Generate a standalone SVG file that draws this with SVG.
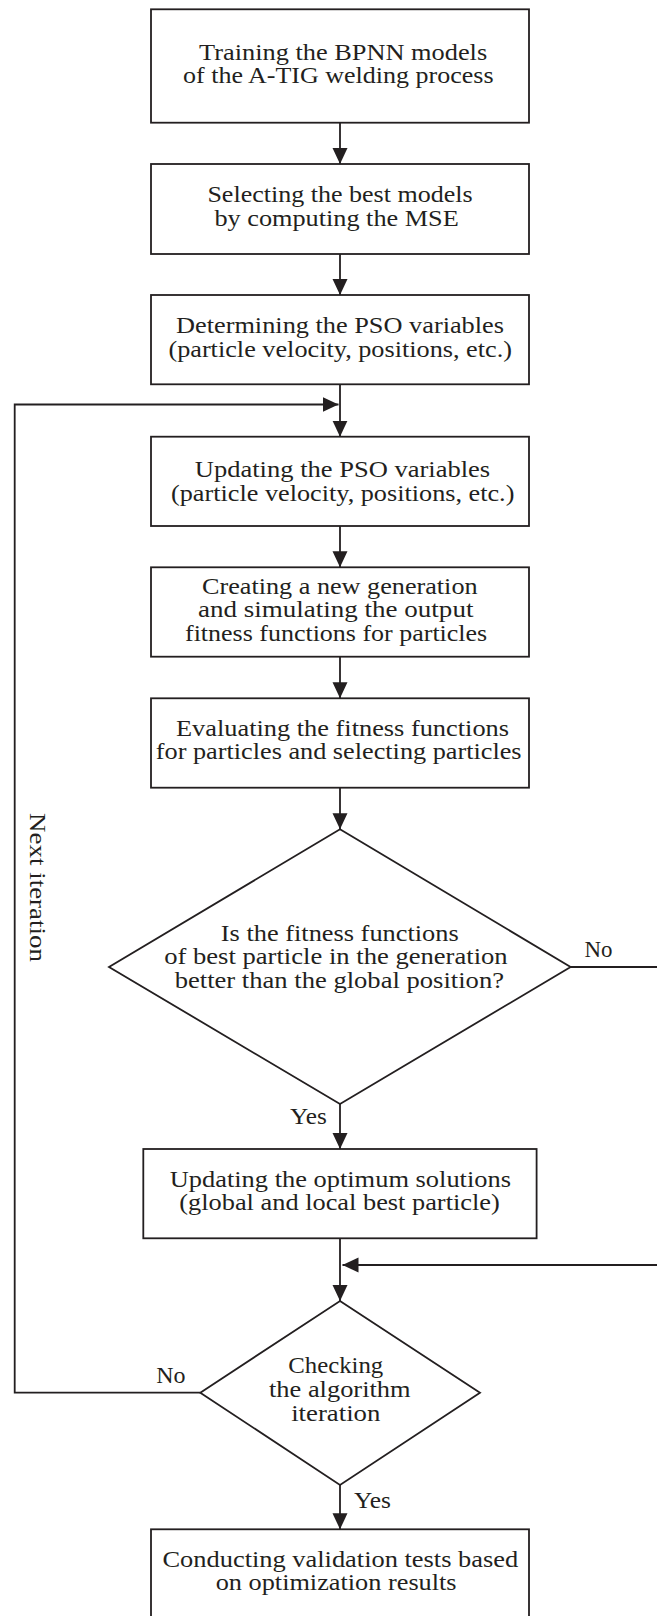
<svg xmlns="http://www.w3.org/2000/svg" width="657" height="1616" viewBox="0 0 657 1616">
<defs>
<marker id="ah" markerUnits="userSpaceOnUse" markerWidth="18" markerHeight="16" refX="16" refY="7.5" orient="auto">
<path d="M0,0 L16,7.5 L0,15 Z" fill="#231f20"/>
</marker>
<style>
.n{fill:#fff;stroke:#231f20;stroke-width:1.8}
.c{fill:none;stroke:#231f20;stroke-width:1.8}
.t{font-family:"Liberation Serif","Times New Roman",serif;font-size:23.5px;fill:#231f20}
</style>
</defs>
<rect width="657" height="1616" fill="#fff"/>
<g id="connectors">
<line class="c" x1="340" y1="122.7" x2="340" y2="164" marker-end="url(#ah)"/>
<line class="c" x1="340" y1="254" x2="340" y2="295" marker-end="url(#ah)"/>
<line class="c" x1="340" y1="384.3" x2="340" y2="436.7" marker-end="url(#ah)"/>
<polyline class="c" points="200.3,1392.7 14.7,1392.7 14.7,404.5 338.5,404.5" marker-end="url(#ah)"/>
<line class="c" x1="340" y1="526" x2="340" y2="567.3" marker-end="url(#ah)"/>
<line class="c" x1="340" y1="656.7" x2="340" y2="698.3" marker-end="url(#ah)"/>
<line class="c" x1="340" y1="787.7" x2="340" y2="829.3" marker-end="url(#ah)"/>
<line class="c" x1="570.6" y1="967" x2="660" y2="967"/>
<line class="c" x1="660" y1="1265" x2="342.5" y2="1265" marker-end="url(#ah)"/>
<line class="c" x1="340" y1="1104" x2="340" y2="1149" marker-end="url(#ah)"/>
<line class="c" x1="340" y1="1238.3" x2="340" y2="1301" marker-end="url(#ah)"/>
<line class="c" x1="340" y1="1485" x2="340" y2="1529.3" marker-end="url(#ah)"/>
<text class="t" x="584.4" y="957.3" textLength="28" lengthAdjust="spacingAndGlyphs">No</text>
<text class="t" x="290" y="1124" textLength="36.8" lengthAdjust="spacingAndGlyphs">Yes</text>
<text class="t" x="156.3" y="1382.7" textLength="29.3" lengthAdjust="spacingAndGlyphs">No</text>
<text class="t" x="354" y="1508.3" textLength="37" lengthAdjust="spacingAndGlyphs">Yes</text>
<text class="t" transform="translate(29.5,813) rotate(90)" x="0" y="0" textLength="149" lengthAdjust="spacingAndGlyphs">Next iteration</text>
</g>
<g id="n1">
<rect class="n" x="151" y="9.3" width="378" height="113.4"/>
<text class="t" x="199" y="60" textLength="288.2" lengthAdjust="spacingAndGlyphs">Training the BPNN models</text>
<text class="t" x="183.1" y="83.3" textLength="310.4" lengthAdjust="spacingAndGlyphs">of the A-TIG welding process</text>
</g>
<g id="n2">
<rect class="n" x="151" y="164" width="378" height="90"/>
<text class="t" x="207.4" y="202.3" textLength="265.2" lengthAdjust="spacingAndGlyphs">Selecting the best models</text>
<text class="t" x="214.5" y="225.7" textLength="244.2" lengthAdjust="spacingAndGlyphs">by computing the MSE</text>
</g>
<g id="n3">
<rect class="n" x="151" y="295" width="378" height="89.3"/>
<text class="t" x="176" y="333.3" textLength="328" lengthAdjust="spacingAndGlyphs">Determining the PSO variables</text>
<text class="t" x="168.4" y="356.7" textLength="343.6" lengthAdjust="spacingAndGlyphs">(particle velocity, positions, etc.)</text>
</g>
<g id="n4">
<rect class="n" x="151" y="436.7" width="378" height="89.3"/>
<text class="t" x="194.8" y="477.3" textLength="295.4" lengthAdjust="spacingAndGlyphs">Updating the PSO variables</text>
<text class="t" x="171" y="500.7" textLength="343.4" lengthAdjust="spacingAndGlyphs">(particle velocity, positions, etc.)</text>
</g>
<g id="n5">
<rect class="n" x="151" y="567.3" width="378" height="89.4"/>
<text class="t" x="202" y="594" textLength="275.6" lengthAdjust="spacingAndGlyphs">Creating a new generation</text>
<text class="t" x="198" y="617.3" textLength="275.4" lengthAdjust="spacingAndGlyphs">and simulating the output</text>
<text class="t" x="185" y="640.7" textLength="302.2" lengthAdjust="spacingAndGlyphs">fitness functions for particles</text>
</g>
<g id="n6">
<rect class="n" x="151" y="698.3" width="378" height="89.4"/>
<text class="t" x="176" y="735.7" textLength="333" lengthAdjust="spacingAndGlyphs">Evaluating the fitness functions</text>
<text class="t" x="155.8" y="759" textLength="365.8" lengthAdjust="spacingAndGlyphs">for particles and selecting particles</text>
</g>
<g id="d1">
<polygon class="n" points="340,829.3 570.6,967 340,1104 109,967"/>
<text class="t" x="220.8" y="941" textLength="237.9" lengthAdjust="spacingAndGlyphs">Is the fitness functions</text>
<text class="t" x="164.2" y="964.3" textLength="343.5" lengthAdjust="spacingAndGlyphs">of best particle in the generation</text>
<text class="t" x="174.7" y="988.3" textLength="329.3" lengthAdjust="spacingAndGlyphs">better than the global position?</text>
</g>
<g id="n7">
<rect class="n" x="143.3" y="1149" width="393.3" height="89.3"/>
<text class="t" x="169.7" y="1186.7" textLength="341.3" lengthAdjust="spacingAndGlyphs">Updating the optimum solutions</text>
<text class="t" x="179.3" y="1210" textLength="320.5" lengthAdjust="spacingAndGlyphs">(global and local best particle)</text>
</g>
<g id="d2">
<polygon class="n" points="340,1301 480,1392.7 340,1485 200.3,1392.7"/>
<text class="t" x="288.2" y="1373.3" textLength="95.1" lengthAdjust="spacingAndGlyphs">Checking</text>
<text class="t" x="269" y="1396.7" textLength="141.6" lengthAdjust="spacingAndGlyphs">the algorithm</text>
<text class="t" x="291.2" y="1420.7" textLength="89.2" lengthAdjust="spacingAndGlyphs">iteration</text>
</g>
<g id="n8">
<rect class="n" x="151" y="1529.3" width="378" height="100"/>
<text class="t" x="162.5" y="1566.7" textLength="355.7" lengthAdjust="spacingAndGlyphs">Conducting validation tests based</text>
<text class="t" x="215.7" y="1590" textLength="240.9" lengthAdjust="spacingAndGlyphs">on optimization results</text>
</g>
</svg>
